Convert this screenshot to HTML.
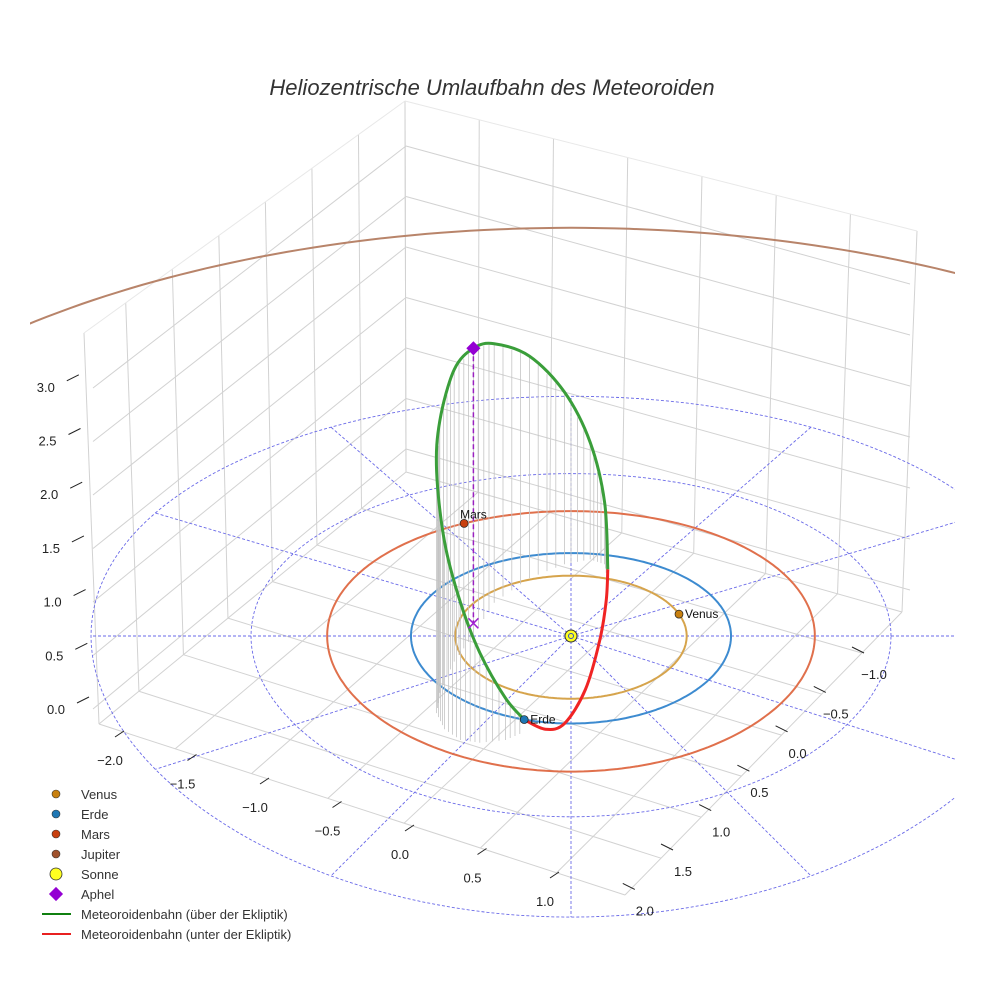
<!DOCTYPE html>
<html><head><meta charset="utf-8"><style>
html,body{margin:0;padding:0;background:#fff;overflow:hidden;width:984px;height:984px}
svg{display:block;font-family:"Liberation Sans",sans-serif}
</style></head><body>
<svg id="chart" width="984" height="984" viewBox="0 0 984 984">
<defs><clipPath id="clipR"><rect x="30" y="0" width="925" height="984"/></clipPath></defs>
<text x="492" y="95" text-anchor="middle" font-size="22" font-style="italic" fill="#333">Heliozentrische Umlaufbahn des Meteoroiden</text>
<g id="panes"></g>
<g id="ecl" clip-path="url(#clipR)"></g>
<g id="orbits" clip-path="url(#clipR)"></g>
<g id="meteor"></g>
<g id="ticks"></g>
<g id="legend"></g>
</svg>
<script>
const NS='http://www.w3.org/2000/svg';
// ---- data ----
const planetNames=['Venus','Erde','Mars','Jupiter'];
const planetRadii=[0.723,1.0,1.524,5.203];
const planetAngles=[21,-107,116,100]; // degrees in ecliptic
const orbitColors=['#d6a44c','#3d8bd0','#e0704c','#b8846a'];
const markerColors=['#c8800f','#1f77b4','#c8400f','#a0522d'];
const gridRadii=[2,3];
const radialAngles=[0,30,60,90,120,150,180,210,240,270,300,330];
const meteorU=[0.23,0.21,0.12,-0.04,-0.26,-0.48,-0.61,-0.73,-0.82,-0.84,-0.79,-0.69,-0.57,-0.41,-0.29,-0.16,-0.04,0.09,0.18,0.22,0.23];
const meteorV=[0.80,1.01,1.07,1.01,0.84,0.54,0.15,-0.16,-0.52,-0.75,-0.93,-1.05,-1.08,-1.05,-0.96,-0.93,-0.81,-0.39,0.07,0.48,0.80];
const meteorZ=[0,0.50,1.05,1.60,2.10,2.47,2.75,2.80,2.60,2.30,1.75,1.25,0.78,0.30,0,-0.12,-0.17,-0.20,-0.10,-0.05,0];
const aphelIndex=6;
const zTicks=['0.0','0.5','1.0','1.5','2.0','2.5','3.0'];
const xTicks=['−2.0','−1.5','−1.0','−0.5','0.0','0.5','1.0'];
const yTicks=['−1.0','−0.5','0.0','0.5','1.0','1.5','2.0'];
// ---- projection ----
function P(u,v,z){z=z||0;return [571+160*u,636-85*v+2.3*v*v-0.2*v*v*v-100*z];}
function mk(tag,attrs,parent){const e=document.createElementNS(NS,tag);for(const k in attrs)e.setAttribute(k,attrs[k]);parent.appendChild(e);return e;}
const g=id=>document.getElementById(id);
// ---- panes ----
const panes=g('panes');
function L(a,b,c){const e=mk('line',{x1:a[0],y1:a[1],x2:b[0],y2:b[1],stroke:c||'#d2d2d2','stroke-width':1},panes);

}
const B=[406,472],BL=[99,724],BR=[902,612],F=[625,895];
const BT=[405,101],LT=[84,333],RT=[917,231];
function lerp(a,b,t){return [a[0]+(b[0]-a[0])*t,a[1]+(b[1]-a[1])*t];}
for(let k=0;k<=7;k++){const t=Math.min(k*0.145,1);
 L(lerp(B,BL,t),lerp(BT,LT,t));L(lerp(B,BR,t),lerp(BT,RT,t));
 L(lerp(B,BR,t),lerp(BL,F,t));L(lerp(B,BL,t),lerp(BR,F,t));}
for(let k=0;k<=6;k++){
 const yb=449-k*50.5, yl=709-k*53.5, yr=590-k*51;
 L([406,yb],[93,yl]);L([406,yb],[910,yr]);}
L(BT,LT,'#e8e8e8');L(BT,RT,'#e8e8e8');
// ---- ecliptic grid ----
const ecl=g('ecl');
function ring(r,parent,attrs,n){n=n||180;let d='';for(let i=0;i<=n;i++){const a=2*Math.PI*i/n;const p=P(r*Math.cos(a),r*Math.sin(a));d+=(i?'L':'M')+p[0].toFixed(1)+','+p[1].toFixed(1);}return mk('path',Object.assign({d:d,fill:'none'},attrs),parent);}
gridRadii.forEach(r=>{const e=ring(r,ecl,{stroke:'#6a6ae8','stroke-width':0.9,'stroke-dasharray':'3,2'});
 
 });
radialAngles.forEach(a=>{const r=a*Math.PI/180;const p0=P(0,0),p1=P(3*Math.cos(r),3*Math.sin(r));
 const e=mk('line',{x1:p0[0],y1:p0[1],x2:p1[0],y2:p1[1],stroke:'#6a6ae8','stroke-width':0.9,'stroke-dasharray':'3,2'},ecl);
 
 });
// ---- planet orbits ----
const orb=g('orbits');
planetRadii.forEach((r,i)=>{const e=ring(r,orb,{stroke:orbitColors[i],'stroke-width':2},360);
 
 });
// ---- meteoroid ----
const met=g('meteor');
for(let i=0;i<14;i++){for(let s=0;s<4;s++){const t=s/4;
 const u=meteorU[i]+(meteorU[i+1]-meteorU[i])*t,v=meteorV[i]+(meteorV[i+1]-meteorV[i])*t,z=meteorZ[i]+(meteorZ[i+1]-meteorZ[i])*t;
 const a=P(u,v,z),b=P(u,v,0);
 const e=mk('line',{x1:a[0],y1:a[1],x2:b[0],y2:b[1]+12,stroke:'#c4c4c4','stroke-width':0.8},met);
 
 }}
function path(i0,i1){let pts=[];for(let i=i0;i<=i1;i++)pts.push(P(meteorU[i],meteorV[i],meteorZ[i]));
 let d='M'+pts[0].join(',');for(let i=0;i<pts.length-1;i++){const p0=pts[Math.max(i-1,0)],p1=pts[i],p2=pts[i+1],p3=pts[Math.min(i+2,pts.length-1)];
 d+=`C${p1[0]+(p2[0]-p0[0])/6},${p1[1]+(p2[1]-p0[1])/6} ${p2[0]-(p3[0]-p1[0])/6},${p2[1]-(p3[1]-p1[1])/6} ${p2[0]},${p2[1]}`;}return d;}
const ap=P(meteorU[aphelIndex],meteorV[aphelIndex],meteorZ[aphelIndex]),af=P(meteorU[aphelIndex],meteorV[aphelIndex],0);
let e=mk('line',{x1:ap[0],y1:ap[1],x2:af[0],y2:af[1],stroke:'#9a20c0','stroke-width':1.5,'stroke-dasharray':'5,3'},met);


e=mk('path',{d:path(0,14),fill:'none',stroke:'#3a9e3a','stroke-width':3},met);


e=mk('path',{d:path(14,20),fill:'none',stroke:'#f02424','stroke-width':3},met);


e=mk('path',{d:`M${af[0]-5},${af[1]-5}L${af[0]+5},${af[1]+5}M${af[0]+5},${af[1]-5}L${af[0]-5},${af[1]+5}`,stroke:'#a020d0','stroke-width':1.5},met);


e=mk('rect',{x:ap[0]-5,y:ap[1]-5,width:10,height:10,fill:'#9400d3',transform:`rotate(45 ${ap[0]} ${ap[1]})`},met);


for(let i=0;i<3;i++){const a=planetAngles[i]*Math.PI/180;const p=P(planetRadii[i]*Math.cos(a),planetRadii[i]*Math.sin(a));
 e=mk('circle',{cx:p[0],cy:p[1],r:4,fill:markerColors[i],stroke:'#222','stroke-width':0.7},met);
 
 
 const dx=i==2?-4:6;
 e=mk('text',{x:p[0]+dx,y:p[1]+(i==2?-5:4),'font-size':12,fill:'#111'},met);e.textContent=planetNames[i];
 
 }
const s=P(0,0);
e=mk('circle',{cx:s[0],cy:s[1],r:6,fill:'#ffff20',stroke:'#333','stroke-width':1},met);


e=mk('circle',{cx:s[0],cy:s[1],r:2.5,fill:'none',stroke:'#3050c0','stroke-width':1},met);


// ---- ticks ----
const tk=g('ticks');
function tick(lx,ly,txt,a,b,name){const l=mk('line',{x1:a[0],y1:a[1],x2:b[0],y2:b[1],stroke:'#222','stroke-width':1},tk);
 
 
 const t=mk('text',{x:lx,y:ly+5,'text-anchor':'middle','font-size':13,fill:'#222'},tk);t.textContent=txt;
 
 }
zTicks.forEach((t,i)=>{const y=709-i*53.7,x=71-i*1.7;tick(x-15,y,t,[x+6,y-6],[x+18,y-12],'z');});
xTicks.forEach((t,i)=>{const x=110+i*72.5,y=760+i*23.5;tick(x,y,t,[x+5,y-23],[x+14,y-29],'x');});
yTicks.forEach((t,i)=>{const x=874-i*38.2,y=674+i*39.4;tick(x,y,t,[x-22,y-27],[x-10,y-21],'y');});
// ---- legend ----
const lg=g('legend');
const legendLabels=['Venus','Erde','Mars','Jupiter','Sonne','Aphel','Meteoroidenbahn (über der Ekliptik)','Meteoroidenbahn (unter der Ekliptik)'];
legendLabels.forEach((lab,i)=>{const y=794+i*20;let m;
 if(i<4)m=mk('circle',{cx:56,cy:y,r:4,fill:markerColors[i],stroke:'#333','stroke-width':0.6},lg);
 else if(i==4)m=mk('circle',{cx:56,cy:y,r:6,fill:'#ffff20',stroke:'#333','stroke-width':0.8},lg);
 else if(i==5)m=mk('rect',{x:51,y:y-5,width:10,height:10,fill:'#9400d3',transform:`rotate(45 56 ${y})`},lg);
 else m=mk('line',{x1:42,y1:y,x2:71,y2:y,stroke:i==6?'#108010':'#e82020','stroke-width':2},lg);
 
 
 const t=mk('text',{x:81,y:y+5,'font-size':13,fill:'#333'},lg);t.textContent=lab;
 
 });
</script>
</body></html>
